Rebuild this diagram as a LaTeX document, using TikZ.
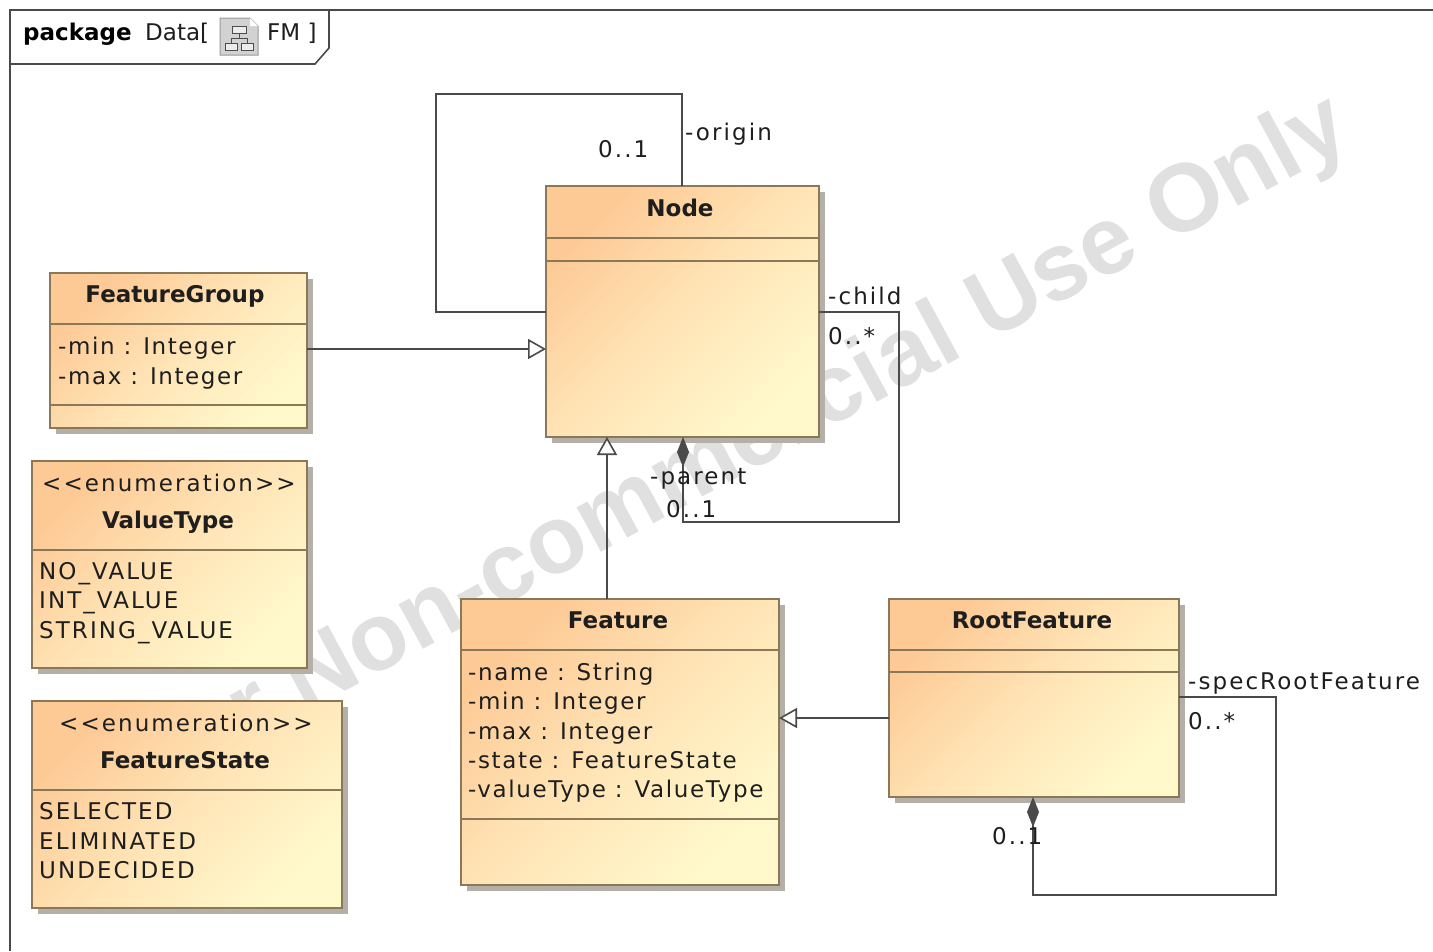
\documentclass[tikz,border=0pt]{standalone}
\usepackage{fontspec}
\setmainfont{DejaVu Sans}
\newfontfamily\rolefont[LetterSpace=9]{DejaVu Sans}
\newfontfamily\attrfont[LetterSpace=7]{DejaVu Sans}
\newfontfamily\wmfont{Liberation Sans}
\usetikzlibrary{arrows.meta}
\definecolor{linec}{HTML}{4A4A4A}
\definecolor{textc}{HTML}{1E1E1E}
\definecolor{boxa}{HTML}{FDC994}
\definecolor{boxm}{HTML}{FFE4B6}
\definecolor{boxb}{HTML}{FFF9CC}
\definecolor{sepc}{HTML}{8A7858}
\definecolor{shadowc}{HTML}{B4B0A8}
\definecolor{waterc}{HTML}{E0E0E0}
\tikzset{
  classbox/.style={anchor=north west,inner sep=0pt,outer sep=0pt,draw=sepc,line width=1.4pt,
    top color=boxa,bottom color=boxb,middle color=boxm,shading angle=45},
  seprule/.style={draw=sepc,line width=1.3pt},
  role/.style={anchor=base west,inner sep=0pt,yshift=1pt,text=textc,font=\fontsize{23}{23}\selectfont\rolefont},
  attr/.style={anchor=base west,inner sep=0pt,yshift=1pt,text=textc,font=\fontsize{23}{23}\selectfont\attrfont},
  ttl/.style={anchor=base,inner sep=0pt,yshift=1pt,text=textc,font=\fontsize{23}{23}\selectfont\bfseries},
  stereo/.style={anchor=base,inner sep=0pt,yshift=1pt,text=textc,font=\fontsize{23}{23}\selectfont\rolefont},
  taglbl/.style={anchor=base west,inner sep=0pt,yshift=1pt,text=textc,font=\fontsize{23}{23}\selectfont},
  conn/.style={draw=linec,line width=1.6pt},
  gen/.style={conn,-{Triangle[open,fill=white,length=18pt,width=20pt,line width=1.6pt]}},
  comp/.style={conn,{Diamond[fill=linec,length=30pt,width=12pt]}-},
}
\newcommand{\umlclass}[6]{% name, x1, y1, x2, y2, separators
  \fill[shadowc] (#2+6,#3+6) rectangle (#4+6,#5+6);
  \pgfmathsetmacro{\boxw}{#4-#2}\pgfmathsetmacro{\boxh}{#5-#3}
  \node[classbox,minimum width=\boxw pt,minimum height=\boxh pt] (#1) at (#2,#3) {};
  \foreach \s in {#6} {\draw[seprule] (#2,\s) -- (#4,\s);}
}
\begin{document}
\begin{tikzpicture}[x=1pt,y=-1pt]
\useasboundingbox (0,0) rectangle (1433,951);
\fill[white] (0,0) rectangle (1433,951);
% watermark
\node[anchor=base east,inner sep=0pt,rotate=28.5,text=waterc,font=\fontsize{96}{96}\selectfont\wmfont\bfseries] (wm) at (1355,143) {For Non-commercial Use Only};
% frame
\draw[conn] (1433,10) -- (10,10) -- (10,951);
\draw[conn] (10,64) -- (315,64) -- (329,48) -- (329,10);
% classes
\umlclass{node}{546}{186}{819}{437}{238,261}
\umlclass{fg}{50}{273}{307}{428}{324,405}
\umlclass{vt}{32}{461}{307}{668}{550}
\umlclass{fs}{32}{701}{342}{908}{790}
\umlclass{feat}{461}{599}{779}{885}{650,819}
\umlclass{root}{889}{599}{1179}{797}{650,672}
% class text
\node[ttl] (tnode) at (680,217) {Node};
\node[ttl] (tfg) at (175,303) {FeatureGroup};
\node[attr] (a1) at (58,355) {-min : Integer};
\node[attr] (a2) at (58,385) {-max : Integer};
\node[stereo] (s1) at (169,492) {<{}<enumeration>{}>};
\node[ttl] (tvt) at (168,529) {ValueType};
\node[role] (v1) at (39,580) {NO\_VALUE};
\node[role] (v2) at (39,609) {INT\_VALUE};
\node[role] (v3) at (39,639) {STRING\_VALUE};
\node[stereo] (s2) at (186,732) {<{}<enumeration>{}>};
\node[ttl] (tfs) at (185,769) {FeatureState};
\node[role] (e1) at (39,820) {SELECTED};
\node[role] (e2) at (39,850) {ELIMINATED};
\node[role] (e3) at (39,879) {UNDECIDED};
\node[ttl] (tfeat) at (618,629) {Feature};
\node[attr] (f1) at (468,681) {-name : String};
\node[attr] (f2) at (468,710) {-min : Integer};
\node[attr] (f3) at (468,740) {-max : Integer};
\node[attr] (f4) at (468,769) {-state : FeatureState};
\node[attr] (f5) at (468,798) {-valueType : ValueType};
\node[ttl] (troot) at (1032,629) {RootFeature};
% rails for connectors
\coordinate (railA) at (0,349);
\coordinate (railB) at (607,0);
\coordinate (railC) at (0,718);
\coordinate (oTop) at (682,94);
\coordinate (oLeft) at (436,312);
\coordinate (cCorner) at (899,522);
\coordinate (cStart) at (0,312);
\coordinate (cDown) at (683,0);
\coordinate (rCorner) at (1276,895);
\coordinate (rStart) at (0,697);
\coordinate (rDown) at (1033,0);
% connectors
\draw[gen] (fg.east |- railA) -- (node.west |- railA);
\draw[gen] (feat.north -| railB) -- (node.south -| railB);
\draw[gen] (root.west |- railC) -- (feat.east |- railC);
\draw[conn] (node.north -| oTop) -- (oTop) -| (oLeft) -- (node.west |- oLeft);
\draw[comp] (node.south -| cDown) -- (cDown |- cCorner) -- (cCorner) |- (node.east |- cStart);
\draw[comp] (root.south -| rDown) -- (rDown |- rCorner) -- (rCorner) |- (root.east |- rStart);
% role labels
\node[role] (l1) at (685,141) {-origin};
\node[role] (l2) at (598,158) {0..1};
\node[role] (l3) at (828,305) {-child};
\node[role] (l4) at (828,345) {0..*};
\node[role] (l5) at (650,485) {-parent};
\node[role] (l6) at (666,518) {0..1};
\node[role] (l7) at (1188,690) {-specRootFeature};
\node[role] (l8) at (1188,730) {0..*};
\node[role] (l9) at (992,845) {0..1};
% tag text
\node[anchor=base west,inner sep=0pt,yshift=1pt,text=black,font=\fontsize{23}{23}\selectfont\bfseries] (p1) at (23,41) {package};
\node[taglbl] (p2) at (145,41) {Data[};
\node[taglbl] (p3) at (267,41) {FM ]};
% icon
\fill[fill=gray!35,draw=gray!80,line width=1pt] (220,18) -- (250,18) -- (258,26) -- (258,55) -- (220,55) -- cycle;
\fill[white] (250,18) -- (258,26) -- (250,26) -- cycle;
\draw[fill=gray!15,draw=gray!60!black,line width=1pt] (232,26) rectangle (246,33);
\draw[fill=gray!15,draw=gray!60!black,line width=1pt] (225,43) rectangle (237,50);
\draw[fill=gray!15,draw=gray!60!black,line width=1pt] (241,43) rectangle (253,50);
\draw[gray!60!black,line width=1pt] (239,33) -- (239,38) (231,43) -- (231,38) -- (247,38) -- (247,43);
\end{tikzpicture}
\end{document}
